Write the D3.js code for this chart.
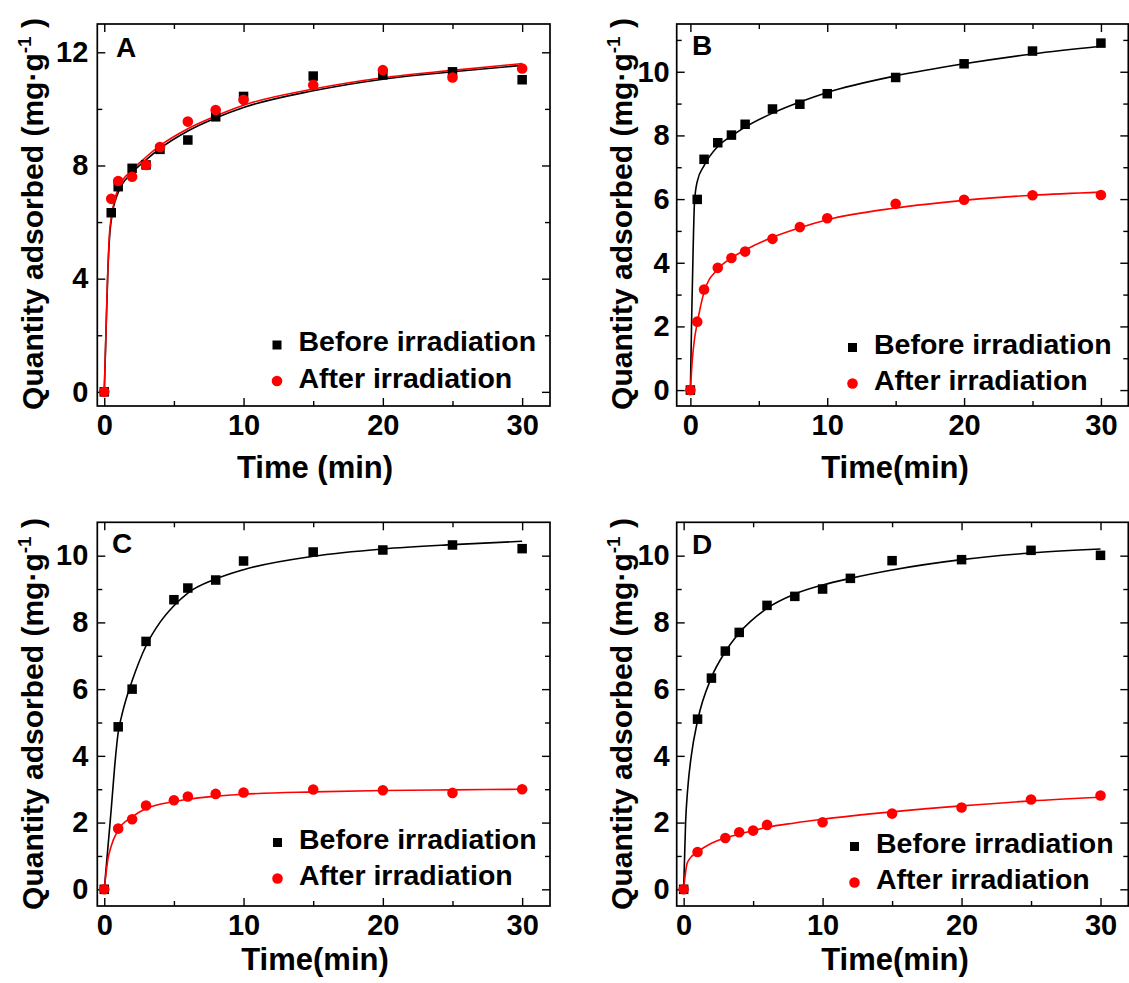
<!DOCTYPE html>
<html>
<head>
<meta charset="utf-8">
<script src="https://cdn.jsdelivr.net/npm/d3@7"></script>
<style>
  html, body { margin: 0; padding: 0; background: #fff; }
  svg { display: block; font-family: "Liberation Sans", Arial, Helvetica, sans-serif; font-weight: bold; }
</style>
</head>
<body>
<svg id="chart" width="1129" height="983"></svg>
<script>
// ---- Adsorption kinetics: quantity adsorbed vs. time, before / after irradiation ----

// Panel A
const timeA = [0, 0.5, 1, 2, 3, 4, 6, 8, 10, 15, 20, 25, 30];
const beforeA = [0, 6.33, 7.25, 7.9, 8.02, 8.57, 8.9, 9.72, 10.44, 11.16, 11.2, 11.31, 11.03];
const afterA  = [0, 6.82, 7.45, 7.6, 8.02, 8.65, 9.55, 9.96, 10.32, 10.84, 11.37, 11.11, 11.43];
const fitBeforeA = [[0,0],[0.12,2.0],[0.24,4.0],[0.4,5.6],[0.5,6.05],[1,7.05],[2,7.74],[3,8.2],[4,8.6],[6,9.22],[8,9.68],[10,10.05],[15,10.64],[20,11.05],[25,11.31],[30,11.54]];
const fitAfterA  = [[0,0],[0.12,2.1],[0.24,4.1],[0.4,5.75],[0.5,6.15],[1,7.18],[2,7.84],[3,8.3],[4,8.7],[6,9.3],[8,9.75],[10,10.13],[15,10.7],[20,11.1],[25,11.36],[30,11.6]];

// Panel B
const timeB = [0, 0.5, 1, 2, 3, 4, 6, 8, 10, 15, 20, 25, 30];
const beforeB = [0, 5.99, 7.25, 7.77, 8.01, 8.35, 8.83, 8.98, 9.31, 9.82, 10.25, 10.65, 10.9];
const afterB  = [0, 2.15, 3.16, 3.84, 4.15, 4.35, 4.75, 5.12, 5.40, 5.85, 5.98, 6.12, 6.13];
const fitBeforeB = [[0,0],[0.1,2.4],[0.2,4.4],[0.3,5.9],[0.5,6.55],[1,7.05],[2,7.65],[3,7.98],[4,8.26],[6,8.7],[8,9.05],[10,9.35],[15,9.87],[20,10.25],[25,10.56],[30,10.8]];
const fitAfterB  = [[0,0],[0.15,1.0],[0.3,1.6],[0.5,2.1],[1,3.08],[2,3.8],[3,4.15],[4,4.4],[6,4.8],[8,5.1],[10,5.35],[15,5.72],[20,5.96],[25,6.12],[30,6.22]];

// Panel C
const timeC = [0, 1, 2, 3, 5, 6, 8, 10, 15, 20, 25, 30];
const beforeC = [0, 4.87, 6.0, 7.43, 8.68, 9.03, 9.27, 9.84, 10.11, 10.17, 10.32, 10.21];
const afterC  = [0, 1.82, 2.10, 2.51, 2.67, 2.78, 2.86, 2.90, 2.99, 2.97, 2.89, 3.0];
const fitBeforeC = [[0,0],[0.25,1.2],[0.5,2.4],[0.75,3.7],[1,4.7],[1.25,5.2],[1.5,5.6],[2,6.25],[3,7.3],[4,8.0],[5,8.5],[6,8.88],[8,9.3],[10,9.58],[15,9.98],[20,10.2],[25,10.33],[30,10.43]];
const fitAfterC  = [[0,0],[0.25,0.87],[0.5,1.3],[1,1.78],[2,2.17],[3,2.42],[5,2.63],[6,2.7],[8,2.79],[10,2.85],[15,2.92],[20,2.96],[25,2.98],[30,3.0]];

// Panel D
const timeDBefore = [0, 1, 2, 3, 4, 6, 8, 10, 12, 15, 20, 25, 30];
const beforeD = [0, 5.1, 6.33, 7.14, 7.70, 8.51, 8.78, 9.0, 9.32, 9.85, 9.88, 10.16, 10.01];
const timeDAfter = [0, 1, 3, 4, 5, 6, 10, 15, 20, 25, 30];
const afterD  = [0, 1.12, 1.54, 1.71, 1.76, 1.93, 2.01, 2.27, 2.45, 2.69, 2.81];
const fitBeforeD = [[0,0],[0.14,2.0],[0.29,3.0],[0.55,4.0],[1,5.05],[2,6.35],[3,7.12],[4,7.68],[6,8.42],[8,8.85],[10,9.12],[12,9.32],[15,9.57],[20,9.88],[25,10.08],[30,10.2]];
const fitAfterD  = [[0,0],[0.12,0.45],[0.25,0.78],[0.5,0.95],[1,1.12],[2,1.38],[3,1.54],[4,1.66],[5,1.76],[6,1.86],[8,1.99],[10,2.1],[15,2.32],[20,2.5],[25,2.65],[30,2.76]];

// Axis ticks and labels
const xMajor = [0, 10, 20, 30];
const xMinor = [5, 15, 25];
const yMajorA = [0, 4, 8, 12];
const yMinorA = [2, 6, 10];
const yMajorBCD = [0, 2, 4, 6, 8, 10];
const yMinorB = [1, 3, 5, 7, 9, 11];
const yMinorCD = [1, 3, 5, 7, 9];
const legendLabels = ["Before irradiation", "After irradiation"];
const panelLetters = ["A", "B", "C", "D"];
const xTitles = ["Time (min)", "Time(min)", "Time(min)", "Time(min)"];

const series = [
  { tb: timeA, b: beforeA, ta: timeA, a: afterA, fb: fitBeforeA, fa: fitAfterA },
  { tb: timeB, b: beforeB, ta: timeB, a: afterB, fb: fitBeforeB, fa: fitAfterB },
  { tb: timeC, b: beforeC, ta: timeC, a: afterC, fb: fitBeforeC, fa: fitAfterC },
  { tb: timeDBefore, b: beforeD, ta: timeDAfter, a: afterD, fb: fitBeforeD, fa: fitAfterD }
];

// Layout of the four panels (frame boxes in px)
const panels = [
  { l: 97.3, r: 550, t: 24, b: 406, xd: [-0.5, 32], yd: [-0.5, 13], yMaj: yMajorA, yMin: yMinorA,
    ytX: 43, ytY: 214, xtX: 315, xtY: 478, letX: 116, letY: 57, legX: 277, legY: 345, yPad: 9 },
  { l: 676.7, r: 1128.3, t: 24, b: 406, xd: [-1, 32], yd: [-0.5, 11.5], yMaj: yMajorBCD, yMin: yMinorB,
    ytX: 632, ytY: 214, xtX: 895, xtY: 478, letX: 692, letY: 55, legX: 852.5, legY: 347.5, yPad: 7 },
  { l: 97.3, r: 550, t: 522.3, b: 906, xd: [-0.5, 32], yd: [-0.5, 11], yMaj: yMajorBCD, yMin: yMinorCD,
    ytX: 43, ytY: 714, xtX: 315, xtY: 970, letX: 112, letY: 553, legX: 277.5, legY: 842.5, yPad: 9 },
  { l: 676.7, r: 1128.3, t: 522.3, b: 906, xd: [-0.5, 32], yd: [-0.5, 11], yMaj: yMajorBCD, yMin: yMinorCD,
    ytX: 632, ytY: 714, xtX: 895, xtY: 970, letX: 692, letY: 554, legX: 854.5, legY: 846.5, yPad: 7 }
];

const svg = d3.select("#chart");
const RED = "#ff0000";
const BLACK = "#000000";

panels.forEach((p, i) => {
  const s = series[i];
  const x = d3.scaleLinear().domain(p.xd).range([p.l, p.r]);
  const y = d3.scaleLinear().domain(p.yd).range([p.b, p.t]);
  const g = svg.append("g");

  const strip = sel => sel.select(".domain").remove();

  // major / minor ticks on all four sides, pointing inward
  g.append("g").attr("transform", `translate(0,${p.b})`)
    .call(d3.axisBottom(x).tickValues(xMajor).tickSize(-8).tickPadding(8).tickFormat(d3.format("d")))
    .call(strip)
    .call(a => a.selectAll("text").attr("font-size", 29).attr("font-family", null).attr("fill", BLACK));
  g.append("g").attr("transform", `translate(0,${p.b})`)
    .call(d3.axisBottom(x).tickValues(xMinor).tickSize(-5).tickFormat(""))
    .call(strip);
  g.append("g").attr("transform", `translate(0,${p.t})`)
    .call(d3.axisTop(x).tickValues(xMajor).tickSize(-8).tickFormat(""))
    .call(strip);
  g.append("g").attr("transform", `translate(0,${p.t})`)
    .call(d3.axisTop(x).tickValues(xMinor).tickSize(-5).tickFormat(""))
    .call(strip);

  g.append("g").attr("transform", `translate(${p.l},0)`)
    .call(d3.axisLeft(y).tickValues(p.yMaj).tickSize(-8).tickPadding(p.yPad).tickFormat(d3.format("d")))
    .call(strip)
    .call(a => a.selectAll("text").attr("font-size", 29).attr("font-family", null).attr("fill", BLACK));
  g.append("g").attr("transform", `translate(${p.l},0)`)
    .call(d3.axisLeft(y).tickValues(p.yMin).tickSize(-5).tickFormat(""))
    .call(strip);
  g.append("g").attr("transform", `translate(${p.r},0)`)
    .call(d3.axisRight(y).tickValues(p.yMaj).tickSize(-8).tickFormat(""))
    .call(strip);
  g.append("g").attr("transform", `translate(${p.r},0)`)
    .call(d3.axisRight(y).tickValues(p.yMin).tickSize(-5).tickFormat(""))
    .call(strip);

  g.selectAll(".tick line").attr("stroke", BLACK).attr("stroke-width", 1.4);

  // frame
  g.append("rect")
    .attr("x", p.l).attr("y", p.t)
    .attr("width", p.r - p.l).attr("height", p.b - p.t)
    .attr("fill", "none").attr("stroke", BLACK).attr("stroke-width", 1.7);

  // fitted curves
  const line = d3.line().x(d => x(d[0])).y(d => y(d[1])).curve(d3.curveMonotoneX);
  g.append("path").datum(s.fb).attr("d", line)
    .attr("fill", "none").attr("stroke", BLACK).attr("stroke-width", 1.6);
  g.append("path").datum(s.fa).attr("d", line)
    .attr("fill", "none").attr("stroke", RED).attr("stroke-width", 1.6);

  // measured points
  const sq = 9.5;
  g.append("g").selectAll("rect")
    .data(s.tb.map((t, k) => [t, s.b[k]]))
    .join("rect")
    .attr("x", d => x(d[0]) - sq / 2).attr("y", d => y(d[1]) - sq / 2)
    .attr("width", sq).attr("height", sq).attr("fill", BLACK);
  g.append("g").selectAll("circle")
    .data(s.ta.map((t, k) => [t, s.a[k]]))
    .join("circle")
    .attr("cx", d => x(d[0])).attr("cy", d => y(d[1]))
    .attr("r", 5.3).attr("fill", RED);

  // panel letter
  svg.append("text").attr("x", p.letX).attr("y", p.letY)
    .attr("font-size", 28).text(panelLetters[i]);

  // legend
  const lg = svg.append("g").attr("transform", `translate(${p.legX},${p.legY})`);
  lg.append("rect").attr("x", -4.5).attr("y", -4.5).attr("width", 9).attr("height", 9).attr("fill", BLACK);
  lg.append("circle").attr("cx", 0).attr("cy", 36).attr("r", 5.3).attr("fill", RED);
  lg.append("text").attr("x", 21.5).attr("y", 6).attr("font-size", 28.5).text(legendLabels[0]);
  lg.append("text").attr("x", 21.5).attr("y", 42.5).attr("font-size", 28.5).text(legendLabels[1]);

  // axis titles
  svg.append("text").attr("x", p.xtX).attr("y", p.xtY)
    .attr("text-anchor", "middle").attr("font-size", 31).text(xTitles[i]);

  const yt = svg.append("text")
    .attr("transform", `translate(${p.ytX},${p.ytY}) rotate(-90)`)
    .attr("text-anchor", "middle").attr("font-size", 30);
  yt.append("tspan").text("Quantity adsorbed (mg·g");
  yt.append("tspan").attr("font-size", 19).attr("dy", -12).text("-1");
  yt.append("tspan").attr("dy", 12).text(" )");
});
</script>
</body>
</html>
